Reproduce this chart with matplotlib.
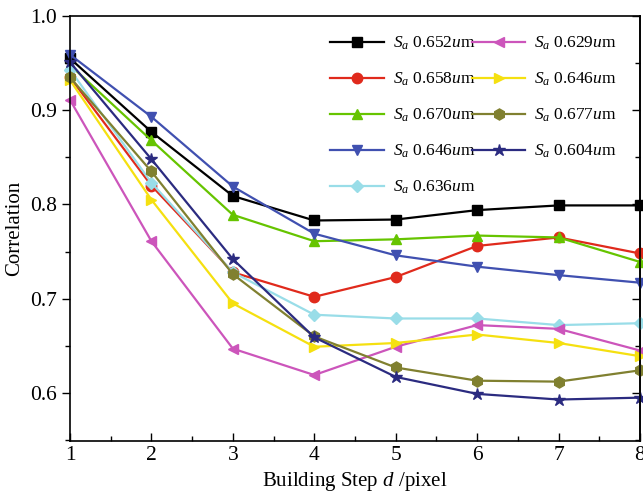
import matplotlib
matplotlib.use("Agg")
import matplotlib.pyplot as plt
from matplotlib.ticker import MultipleLocator

plt.rcParams['font.family'] = ['Liberation Serif', 'DejaVu Serif']
plt.rcParams['mathtext.fontset'] = 'custom'
plt.rcParams['mathtext.rm'] = 'Liberation Serif'
plt.rcParams['mathtext.it'] = 'Liberation Serif:italic'

steps = [1, 2, 3, 4, 5, 6, 7, 8]
labels = ['$S_a$ 0.652$u$m', '$S_a$ 0.658$u$m', '$S_a$ 0.670$u$m', '$S_a$ 0.646$u$m',
          '$S_a$ 0.636$u$m', '$S_a$ 0.629$u$m', '$S_a$ 0.646$u$m', '$S_a$ 0.677$u$m',
          '$S_a$ 0.604$u$m']
s1 = [0.955, 0.877, 0.809, 0.783, 0.784, 0.794, 0.799, 0.799]
s2 = [0.935, 0.820, 0.728, 0.702, 0.723, 0.756, 0.765, 0.748]
s3 = [0.948, 0.868, 0.789, 0.761, 0.763, 0.767, 0.765, 0.739]
s4 = [0.959, 0.893, 0.819, 0.769, 0.746, 0.734, 0.725, 0.717]
s5 = [0.943, 0.823, 0.728, 0.683, 0.679, 0.679, 0.672, 0.674]
s6 = [0.911, 0.761, 0.647, 0.619, 0.649, 0.672, 0.668, 0.645]
s7 = [0.932, 0.805, 0.695, 0.649, 0.653, 0.662, 0.653, 0.639]
s8 = [0.935, 0.835, 0.726, 0.660, 0.627, 0.613, 0.612, 0.624]
s9 = [0.951, 0.848, 0.742, 0.659, 0.617, 0.599, 0.593, 0.595]
series = [s1, s2, s3, s4, s5, s6, s7, s8, s9]
colors = ['#000000', '#e02a1c', '#66c400', '#4050b0', '#99dde8', '#cc55bb',
          '#f5e010', '#808030', '#2b2b80']
markers = ['s', 'o', '^', 'v', 'D', '<', '>', 'h', '*']
msizes = [6.5, 7.5, 7.5, 7.5, 6.5, 7.5, 7.5, 8, 9]

fig = plt.figure(figsize=(6.43, 5.04), dpi=100)
ax = fig.add_axes([70/643, 63/504, 570/643, 425/504])
for y, c, m, ms, lab in zip(series, colors, markers, msizes, labels):
    ax.plot(steps, y, color=c, marker=m, markersize=ms, linewidth=1.6, label=lab,
            clip_on=False)

ax.set_xlim(1, 8)
ax.set_ylim(0.549, 1.0)
ax.xaxis.set_major_locator(MultipleLocator(1))
ax.xaxis.set_minor_locator(MultipleLocator(0.5))
ax.yaxis.set_major_locator(MultipleLocator(0.1))
ax.yaxis.set_minor_locator(MultipleLocator(0.05))
ax.tick_params(axis='both', which='major', labelsize=15.5, length=6, width=1)
ax.tick_params(axis='both', which='minor', length=3.5, width=1)
ax.tick_params(axis='x', which='both', direction='in', top=False)
ax.tick_params(axis='y', which='both', direction='out')
ax2 = ax.secondary_yaxis('right')
ax2.yaxis.set_major_locator(MultipleLocator(0.1))
ax2.yaxis.set_minor_locator(MultipleLocator(0.05))
ax2.tick_params(which='major', direction='in', length=6, width=1, labelright=False)
ax2.tick_params(which='minor', direction='in', length=3.5, width=1)
ax2.spines['right'].set_linewidth(1.2)
for sp in ax.spines.values():
    sp.set_linewidth(1.2)
ax.set_xlabel('Building Step $d$ /pixel', fontsize=15)
ax.set_ylabel('Correlation', fontsize=15)

ax.legend(ncol=2, loc='upper left', bbox_to_anchor=(0.444, 0.972), frameon=False,
          fontsize=12.5, handlelength=3.1, labelspacing=1.07, columnspacing=-0.2,
          handletextpad=0.5, borderaxespad=0.0)

fig.savefig('out.png', dpi=100)
